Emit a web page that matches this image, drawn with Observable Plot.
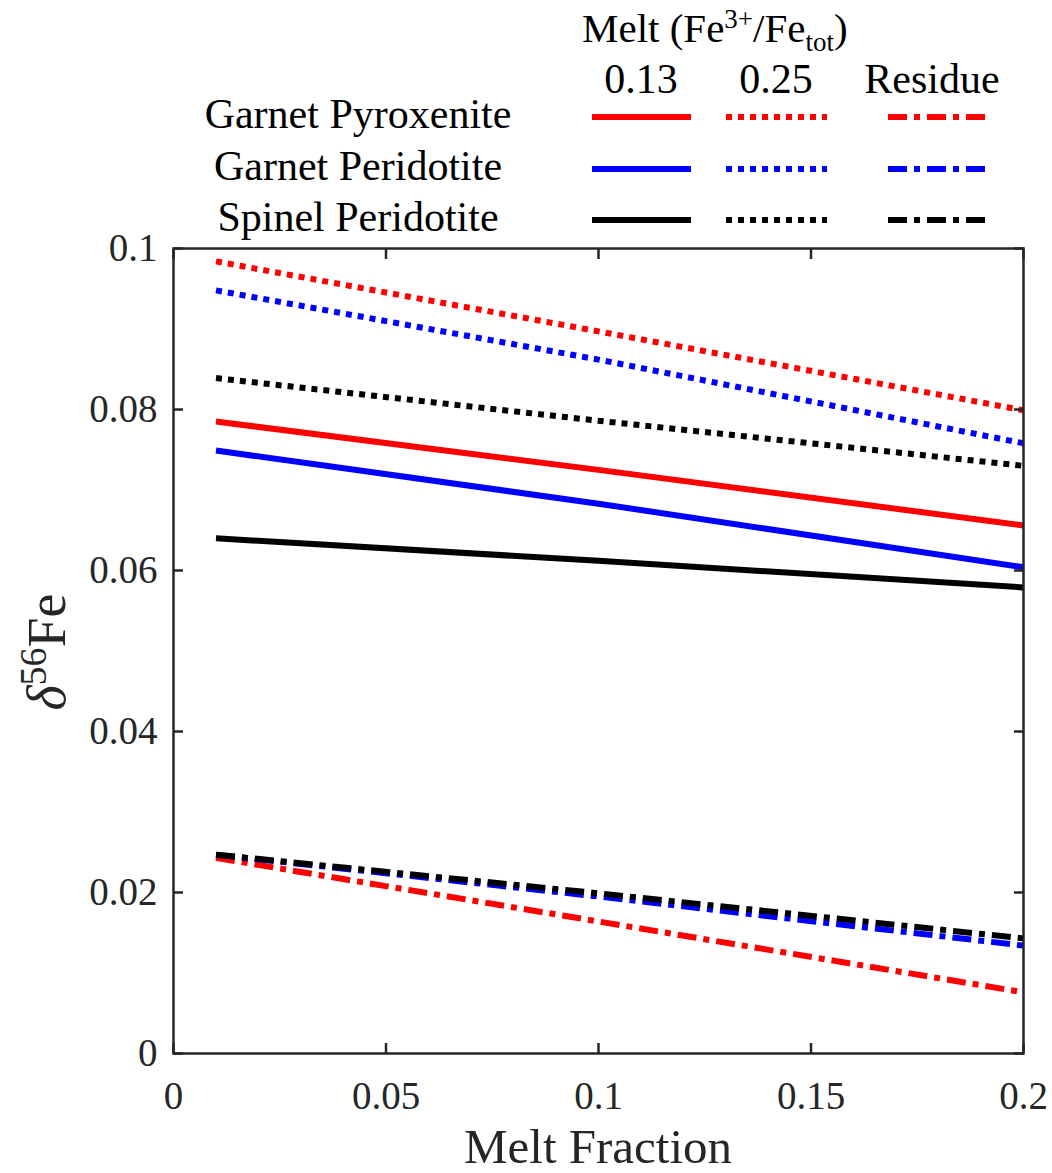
<!DOCTYPE html>
<html>
<head>
<meta charset="utf-8">
<script src="https://cdn.jsdelivr.net/npm/d3@7"></script>
<script src="https://cdn.jsdelivr.net/npm/@observablehq/plot@0.6"></script>
<style>
  html, body { margin: 0; padding: 0; background: white; }
  #wrap { position: relative; width: 1052px; height: 1173px; font-family: "Liberation Serif", "Times New Roman", serif; }
  #legend { position: absolute; left: 0; top: 0; overflow: visible; }
  #chart { position: absolute; left: 0; top: 200px; }
  #chart svg { display: block; overflow: visible; }
  #chart svg text { font-family: "Liberation Serif", "Times New Roman", serif !important; font-variant: normal !important; }
</style>
</head>
<body>
<div id="wrap">
  <div id="chart"></div>
  <svg id="legend" width="1052" height="245"></svg>
</div>
<script>
// ---- data ----
const meltFraction = [0.01, 0.1, 0.2];

const gpxMelt013 = [0.0785, 0.0725, 0.0656];
const gpdMelt013 = [0.0749, 0.0683, 0.0604];
const spdMelt013 = [0.0640, 0.0612, 0.0579];

const gpxMelt025 = [0.0984, 0.0897, 0.0799];
const gpdMelt025 = [0.0948, 0.0862, 0.0758];
const spdMelt025 = [0.0839, 0.0786, 0.0730];

const gpxResidue = [0.0243, 0.0164, 0.0076];
const gpdResidue = [0.0247, 0.0195, 0.0134];
const spdResidue = [0.0247, 0.0199, 0.0143];

const lithologies = ["Garnet Pyroxenite", "Garnet Peridotite", "Spinel Peridotite"];
const cases = ["0.13", "0.25", "Residue"];
const xTicks = [0, 0.05, 0.1, 0.15, 0.2];
const yTicks = [0, 0.02, 0.04, 0.06, 0.08, 0.1];

// ---- styles ----
const serif = "Liberation Serif, Times New Roman, serif";
const lithColor = {"Garnet Pyroxenite": "#ff0000", "Garnet Peridotite": "#0000ff", "Spinel Peridotite": "#000000"};
const caseDash = {"0.13": null, "0.25": "6,6", "Residue": "19,7,6,7"};
const LW = 6;

const seriesList = [
  {lith: "Garnet Pyroxenite", kase: "0.13", values: gpxMelt013},
  {lith: "Garnet Peridotite", kase: "0.13", values: gpdMelt013},
  {lith: "Spinel Peridotite", kase: "0.13", values: spdMelt013},
  {lith: "Garnet Pyroxenite", kase: "0.25", values: gpxMelt025},
  {lith: "Garnet Peridotite", kase: "0.25", values: gpdMelt025},
  {lith: "Spinel Peridotite", kase: "0.25", values: spdMelt025},
  {lith: "Garnet Pyroxenite", kase: "Residue", values: gpxResidue},
  {lith: "Garnet Peridotite", kase: "Residue", values: gpdResidue},
  {lith: "Spinel Peridotite", kase: "Residue", values: spdResidue}
];

const lineMarks = seriesList.map(s => {
  const rows = s.values.map((v, i) => ({x: meltFraction[i], y: v}));
  return Plot.line(rows, {
    x: "x", y: "y",
    stroke: lithColor[s.lith],
    strokeWidth: LW,
    strokeDasharray: caseDash[s.kase],
    strokeLinecap: "butt",
    strokeLinejoin: "miter"
  });
});

const axisColor = "#262626";
const fmt = d => String(d);

const chart = Plot.plot({
  width: 1052,
  height: 973,
  marginTop: 48,
  marginRight: 29,
  marginBottom: 120,
  marginLeft: 173,
  x: {domain: [0, 0.2]},
  y: {domain: [0, 0.1]},
  style: {fontFamily: serif, fontSize: "39px", color: axisColor, background: "transparent", overflow: "visible"},
  marks: [
    ...lineMarks,
    Plot.frame({stroke: axisColor, strokeWidth: 2.5}),
    Plot.axisX(xTicks, {anchor: "bottom", tickSize: -10, tickPadding: 38, tickFormat: fmt, strokeWidth: 2.5, fontSize: 39, fontFamily: serif, fontVariant: "normal", label: null, fill: axisColor}),
    Plot.axisX(xTicks, {anchor: "top", tickSize: -10, tickFormat: () => "", strokeWidth: 2.5, label: null}),
    Plot.axisY(yTicks, {anchor: "left", tickSize: -10, tickPadding: 26, tickFormat: fmt, strokeWidth: 2.5, fontSize: 39, fontFamily: serif, fontVariant: "normal", label: null, fill: axisColor}),
    Plot.axisY(yTicks, {anchor: "right", tickSize: -10, tickFormat: () => "", strokeWidth: 2.5, label: null})
  ]
});
document.getElementById("chart").appendChild(chart);
d3.select(chart).selectAll("g, text").style("font-family", serif).style("font-variant", "normal");

// axis titles
const csvg = d3.select(chart);
csvg.append("text")
  .attr("x", 598).attr("y", 963)
  .attr("text-anchor", "middle")
  .style("font-family", serif)
  .attr("font-size", 49).attr("fill", axisColor)
  .text("Melt Fraction");

const yl = csvg.append("text")
  .attr("transform", "translate(65,452) rotate(-90)")
  .attr("text-anchor", "middle")
  .style("font-family", serif)
  .attr("font-size", 54).attr("fill", axisColor);
yl.append("tspan").attr("font-style", "italic").text("δ");
yl.append("tspan").attr("font-size", 38).attr("dy", -19).text("56");
yl.append("tspan").attr("dy", 19).text("Fe");

// ---- legend ----
const lg = d3.select("#legend");
const hdr = lg.append("text").attr("x", 582).attr("y", 42)
  .style("font-family", serif).attr("font-size", 41).attr("fill", "#000");
hdr.append("tspan").text("Melt (Fe");
hdr.append("tspan").attr("font-size", 27).attr("dy", -14).text("3+");
hdr.append("tspan").attr("dy", 14).text("/Fe");
hdr.append("tspan").attr("font-size", 27).attr("dy", 9).text("tot");
hdr.append("tspan").attr("dy", -9).text(")");

const colCenters = [641, 776, 932];
const colRanges = [[592, 691], [726, 827], [888, 988]];
const rowBase = [128, 180, 231];
cases.forEach((c, j) => {
  lg.append("text").attr("x", colCenters[j]).attr("y", 93)
    .attr("text-anchor", "middle").style("font-family", serif).attr("font-size", 42).attr("fill", "#000")
    .text(c);
});
lithologies.forEach((l, i) => {
  lg.append("text").attr("x", 358).attr("y", rowBase[i])
    .attr("text-anchor", "middle").style("font-family", serif).attr("font-size", 42).attr("fill", "#000")
    .text(l);
  cases.forEach((c, j) => {
    lg.append("line")
      .attr("x1", colRanges[j][0]).attr("x2", colRanges[j][1])
      .attr("y1", rowBase[i] - 11).attr("y2", rowBase[i] - 11)
      .attr("stroke", lithColor[l]).attr("stroke-width", LW)
      .attr("stroke-dasharray", caseDash[c]);
  });
});
</script>
</body>
</html>
